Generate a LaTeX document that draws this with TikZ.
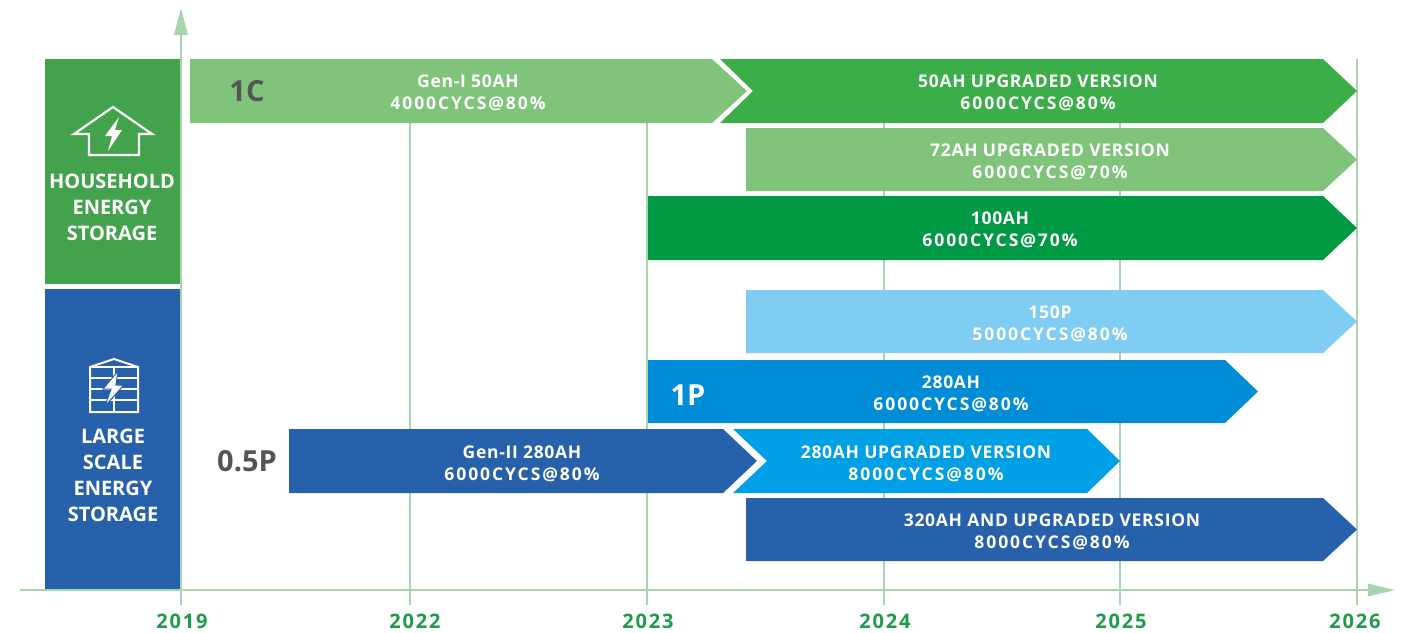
\documentclass[tikz,border=0pt]{standalone}
\usepackage{fontspec}
\setmainfont{Open Sans}
\newfontfamily\barfam[LetterSpace=4]{Open Sans}
\newfontfamily\cycfam[LetterSpace=11]{Open Sans}
\newfontfamily\yearfam[LetterSpace=9]{Open Sans}
\newcommand\cyc[1]{{\cycfam\bfseries #1}}
\definecolor{panelgreen}{HTML}{43A34D}
\definecolor{panelblue}{HTML}{2760AB}
\definecolor{lgreen}{HTML}{80C47C}
\definecolor{mgreen}{HTML}{3BAE49}
\definecolor{dgreen}{HTML}{009A44}
\definecolor{skyblue}{HTML}{80CDF3}
\definecolor{mblue}{HTML}{008CD6}
\definecolor{lblue}{HTML}{00A0E6}
\definecolor{axiscol}{HTML}{A8D5B0}
\definecolor{yearcol}{HTML}{1E9A48}
\definecolor{gentext}{HTML}{555555}
\tikzset{
  bartext/.style={text=white, align=center, inner sep=0pt, font=\barfam\bfseries\fontsize{17.5}{22}\selectfont},
  paneltext/.style={text=white, align=center, inner sep=0pt, font=\bfseries\fontsize{20}{26}\selectfont},
  bigtext/.style={text=gentext, inner sep=0pt, font=\bfseries\fontsize{29}{30}\selectfont},
  yeartext/.style={text=yearcol, inner sep=0pt, font=\yearfam\bfseries\fontsize{20}{21}\selectfont},
  gridline/.style={draw=axiscol, line width=2pt},
  iconline/.style={draw=white, line width=2.2pt}
}
\begin{document}
\begin{tikzpicture}[x=1pt,y=-1pt]
\useasboundingbox (0,0) rectangle (1402,632);
% grid lines
\foreach \gx/\gn in {410/g22,647/g23,884/g24,1120/g25,1357/g26}{
  \coordinate (\gn t) at (\gx,59);
  \coordinate (\gn b) at (\gx,605);
  \draw[gridline] (\gn t) -- (\gn b);
}
% axes
\coordinate (ybot) at (181,605);
\coordinate (ytop) at (181,35);
\coordinate (xleft) at (20,590);
\coordinate (xright) at (1368,590);
\draw[gridline] (ybot) -- (ytop);
\fill[axiscol] (174,35) -- (188,35) -- (181,8) -- cycle;
\draw[gridline] (xleft) -- (xright);
\fill[axiscol] (1368,583.5) -- (1368,596.5) -- (1395,590) -- cycle;
% panels
\fill[panelgreen] (45,59) rectangle (180,284);
\fill[panelblue] (45,289) rectangle (180,589);
% house icon
\draw[iconline, line join=miter] (89,134) -- (74,134) -- (113,107) -- (152,134) -- (139,134) -- (139,155) -- (89,155) -- cycle;
\fill[white] (119,117) -- (105,136) -- (112,136) -- (108,151) -- (122,130) -- (115,130) -- cycle;
% building icon
\draw[iconline, line width=2pt, line join=miter] (90,412) -- (90,367) -- (114,359) -- (138,367) -- (138,412) -- cycle;
\foreach \hy in {367,378,389,400}{\draw[draw=white, line width=2pt] (90,\hy) -- (138,\hy);}
\draw[draw=white, line width=2pt] (114,367) -- (114,412);
\filldraw[fill=white, draw=panelblue, line width=1pt] (118,371) -- (103,389) -- (111,389) -- (105,406) -- (124,385) -- (116,385) -- cycle;
\node[paneltext] (house) at (112,207) {HOUSEHOLD\\ENERGY\\STORAGE};
\node[paneltext] (large) at (113,475) {LARGE\\SCALE\\ENERGY\\STORAGE};
% row 1
\fill[lgreen] (190,59) -- (712,59) -- (747,91) -- (712,123) -- (190,123) -- cycle;
\fill[mgreen] (720,59) -- (1323,59) -- (1357,91) -- (1323,123) -- (720,123) -- (753,91) -- cycle;
\node[bigtext] (c1) at (247,91) {1C};
\node[bartext] (gen1) at (468,93) {Gen-I 50AH\\\cyc{4000CYCS@80\%}};
\node[bartext] (up50) at (1038,93) {50AH UPGRADED VERSION\\\cyc{6000CYCS@80\%}};
% row 2
\fill[lgreen] (746,128) -- (1323,128) -- (1357,159.5) -- (1323,191) -- (746,191) -- cycle;
\node[bartext] (up72) at (1050,162) {72AH UPGRADED VERSION\\\cyc{6000CYCS@70\%}};
% row 3
\fill[dgreen] (648,196) -- (1323,196) -- (1357,228) -- (1323,260) -- (648,260) -- cycle;
\node[bartext] (ah100) at (1000,230) {100AH\\\cyc{6000CYCS@70\%}};
% row 4
\fill[skyblue] (746,290) -- (1323,290) -- (1357,321.5) -- (1323,353) -- (746,353) -- cycle;
\node[bartext] (p150) at (1050,324) {150P\\\cyc{5000CYCS@80\%}};
% row 5
\fill[mblue] (648,360) -- (1225,360) -- (1258,391.5) -- (1225,423) -- (648,423) -- cycle;
\node[bigtext, text=white] (p1) at (688,395) {1P};
\node[bartext] (ah280) at (951,394) {280AH\\\cyc{6000CYCS@80\%}};
% row 6
\fill[panelblue] (289,429) -- (723,429) -- (757,461) -- (723,493) -- (289,493) -- cycle;
\fill[lblue] (733,429) -- (1087,429) -- (1120,461) -- (1087,493) -- (733,493) -- (767,461) -- cycle;
\node[bigtext] (p05) at (247,461) {0.5P};
\node[bartext] (gen2) at (522,464) {Gen-II 280AH\\\cyc{6000CYCS@80\%}};
\node[bartext] (up280) at (926,464) {280AH UPGRADED VERSION\\\cyc{8000CYCS@80\%}};
% row 7
\fill[panelblue] (746,498) -- (1323,498) -- (1357,529.5) -- (1323,561) -- (746,561) -- cycle;
\node[bartext] (ah320) at (1052,532) {320AH AND UPGRADED VERSION\\\cyc{8000CYCS@80\%}};
% years
\node[yeartext] (y19) at (182,621.5) {2019};
\node[yeartext] (y22) at (415,621.5) {2022};
\node[yeartext] (y23) at (648,621.5) {2023};
\node[yeartext] (y24) at (885,621.5) {2024};
\node[yeartext] (y25) at (1121,621.5) {2025};
\node[yeartext] (y26) at (1355,621.5) {2026};
\end{tikzpicture}
\end{document}
